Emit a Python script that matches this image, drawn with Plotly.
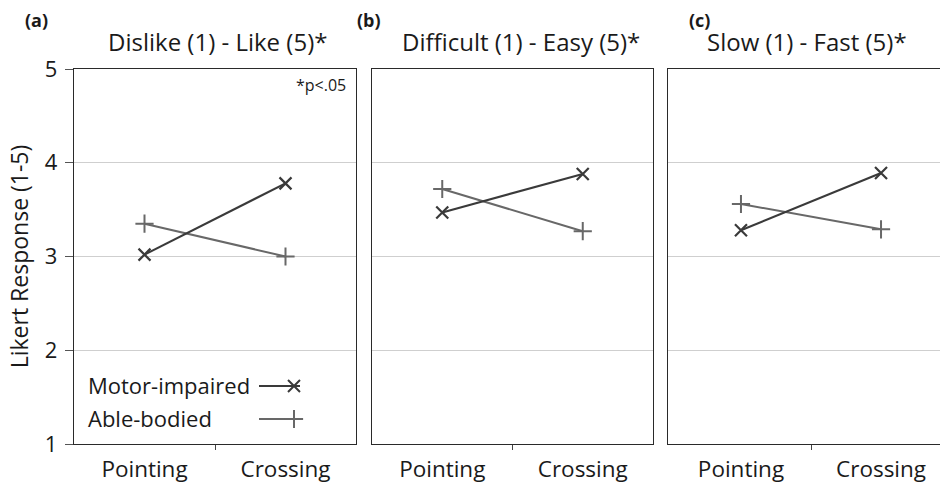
import plotly.graph_objects as go

# --- data -------------------------------------------------------------
techniques = ["Pointing", "Crossing"]
panel_letters = ["(a)", "(b)", "(c)"]
panel_titles = ["Dislike (1) - Like (5)*", "Difficult (1) - Easy (5)*", "Slow (1) - Fast (5)*"]
motor_impaired = [[3.02, 3.78], [3.47, 3.88], [3.28, 3.89]]
able_bodied = [[3.35, 3.00], [3.72, 3.27], [3.56, 3.29]]
likert_ticks = [1, 2, 3, 4, 5]
group_names = ["Motor-impaired", "Able-bodied"]

# --- geometry (pixels on a 940 x 483 canvas) --------------------------
W, H = 940, 483
FONT = "Open Sans"
TXT = "#1a1a1a"
MI_COLOR = "#3a3a3a"
AB_COLOR = "#686868"


def fx(px):
    return px / W


def fy(py):
    return 1 - py / H


panel_px = [(74, 356), (372, 653), (668, 940)]
x_ranges = [[-0.5, 1.5], [-0.5, 1.5], [-0.521, 1.421]]
top_px, bottom_px = 69, 444

fig = go.Figure()

xpos = list(range(len(techniques)))
for i in range(3):
    ax = "" if i == 0 else str(i + 1)
    fig.add_trace(go.Scatter(
        x=xpos, y=able_bodied[i], mode="lines+markers",
        line=dict(color=AB_COLOR, width=2),
        marker=dict(symbol="cross-thin", size=13, line=dict(color=AB_COLOR, width=2)),
        xaxis="x" + ax, yaxis="y" + ax, showlegend=False, hoverinfo="skip"))
    fig.add_trace(go.Scatter(
        x=xpos, y=motor_impaired[i], mode="lines+markers",
        line=dict(color=MI_COLOR, width=2.2),
        marker=dict(symbol="x-thin", size=12, line=dict(color=MI_COLOR, width=2.2)),
        xaxis="x" + ax, yaxis="y" + ax, showlegend=False, hoverinfo="skip"))

layout = dict(
    width=W, height=H,
    margin=dict(l=0, r=0, t=0, b=0, autoexpand=False),
    paper_bgcolor="white", plot_bgcolor="rgba(0,0,0,0)",
    font=dict(family=FONT, color=TXT, size=22),
    showlegend=False,
)

for i, (x0, x1) in enumerate(panel_px):
    key = "" if i == 0 else str(i + 1)
    layout["xaxis" + key] = dict(
        domain=[fx(x0), fx(x1)], range=x_ranges[i], anchor="y" + key,
        tickmode="array", tickvals=xpos, ticktext=techniques,
        ticks="", showgrid=False, zeroline=False, automargin=False,
        showline=True, mirror=True, linecolor="#2a2a2a", linewidth=1.3,
        tickfont=dict(size=22.5, color=TXT), ticklabelstandoff=5,
        minor=dict(tickmode="array", tickvals=[0.5], ticks="outside",
                   ticklen=5, tickwidth=1, tickcolor="#444", showgrid=False),
        fixedrange=True,
    )
    layout["yaxis" + key] = dict(
        domain=[fy(bottom_px), fy(top_px)], range=[1, 5], anchor="x" + key,
        tickmode="array", tickvals=likert_ticks, automargin=False,
        showticklabels=(i == 0), ticks="outside" if i == 0 else "",
        ticklen=8, tickwidth=1.2, tickcolor="#555",
        showgrid=True, gridcolor="#cfcfcf", gridwidth=1, zeroline=False,
        showline=True, mirror=True, linecolor="#2a2a2a", linewidth=1.3,
        tickfont=dict(size=22, color=TXT), ticklabelstandoff=3,
        fixedrange=True,
    )

layout["yaxis"]["title"] = dict(text="Likert Response (1-5)", font=dict(size=23, color=TXT), standoff=9)

# pixel-space overlay used for the hand-placed legend glyphs
layout["xaxis4"] = dict(domain=[0, 1], range=[0, W], visible=False, fixedrange=True, anchor="y4")
layout["yaxis4"] = dict(domain=[0, 1], range=[H, 0], visible=False, fixedrange=True, anchor="x4")

fig.update_layout(**layout)

# legend: label text followed by a line + marker glyph
legend_rows = [(386, MI_COLOR, "x-thin", 12), (419, AB_COLOR, "cross-thin", 13)]
for name, (ly, col, sym, sz) in zip(group_names, legend_rows):
    fig.add_trace(go.Scatter(
        x=[259, 300], y=[ly, ly], mode="lines", line=dict(color=col, width=2),
        xaxis="x4", yaxis="y4", showlegend=False, hoverinfo="skip"))
    fig.add_trace(go.Scatter(
        x=[294], y=[ly], mode="markers",
        marker=dict(symbol=sym, size=sz, line=dict(color=col, width=2)),
        xaxis="x4", yaxis="y4", showlegend=False, hoverinfo="skip"))
    fig.add_annotation(x=fx(86), y=fy(ly - 1), xref="paper", yref="paper",
                       text=name, showarrow=False, xanchor="left", yanchor="middle",
                       font=dict(size=22, color=TXT))

# panel letters and titles
letter_px = [36, 369, 699]
title_px = [217, 521, 807]
for i in range(3):
    fig.add_annotation(x=fx(letter_px[i]), y=fy(20), xref="paper", yref="paper",
                       text="<b>%s</b>" % panel_letters[i], showarrow=False,
                       xanchor="center", yanchor="middle",
                       font=dict(size=18, color=TXT))
    fig.add_annotation(x=fx(title_px[i]), y=fy(41), xref="paper", yref="paper",
                       text=panel_titles[i], showarrow=False,
                       xanchor="center", yanchor="middle",
                       font=dict(size=24, color=TXT))

fig.add_annotation(x=fx(348), y=fy(85), xref="paper", yref="paper",
                   text="*p<.05", showarrow=False, xanchor="right", yanchor="middle",
                   font=dict(size=16, color=TXT))

fig.write_html("out.html")
